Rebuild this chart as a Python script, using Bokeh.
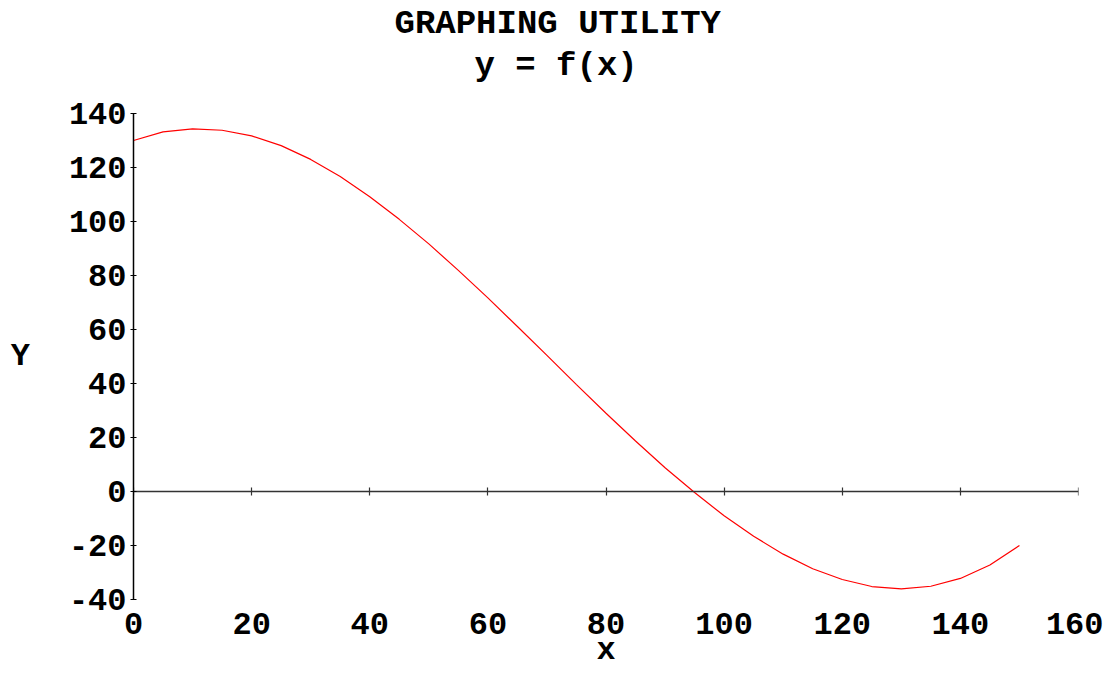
from bokeh.plotting import figure
from bokeh.models import Range1d, LinearAxis, FixedTicker, Title
from bokeh.embed import file_html
from bokeh.resources import INLINE

# ---- data ----
x_vals = [0, 5, 10, 15, 20, 25, 30, 35, 40, 45, 50, 55, 60, 65, 70, 75,
          80, 85, 90, 95, 100, 105, 110, 115, 120, 125, 130, 135, 140, 145, 150]
y_vals = [130.0, 133.2, 134.3, 133.8, 131.7, 128.1, 123.0, 116.7, 109.2, 100.8,
          91.7, 81.9, 71.7, 61.1, 50.4, 39.6, 29.0, 18.7, 8.8, -0.4, -9.0,
          -16.6, -23.2, -28.6, -32.6, -35.2, -36.1, -35.1, -32.2, -27.2, -20.0]
x_ticks = [0, 20, 40, 60, 80, 100, 120, 140, 160]
y_ticks = [-40, -20, 0, 20, 40, 60, 80, 100, 120, 140]
title_main = "GRAPHING UTILITY"
title_sub = "y = f(x)"
x_label = "x"
y_label = "Y"

FONT = "Liberation Mono"
TICK_FS = "32px"
TITLE_FS = "34px"

p = figure(width=1103, height=671,
           x_range=Range1d(0, 160), y_range=Range1d(-40, 140),
           x_axis_location=None, y_axis_location=None,
           output_backend="svg", toolbar_location=None,
           min_border_left=133, min_border_right=25,
           min_border_top=113, min_border_bottom=72)
p.grid.visible = False
p.outline_line_color = None
p.background_fill_color = "white"
p.border_fill_color = "white"

# left axis (x = 0)
yax = LinearAxis(ticker=FixedTicker(ticks=y_ticks),
                 major_label_overrides={t: str(t) for t in y_ticks},
                 axis_label=y_label, axis_label_orientation="horizontal",
                 axis_label_text_font=FONT, axis_label_text_font_size=TICK_FS,
                 axis_label_text_font_style="bold", axis_label_text_color="black",
                 axis_label_standoff=36,
                 major_label_text_font=FONT, major_label_text_font_size=TICK_FS,
                 major_label_text_font_style="bold", major_label_text_color="black",
                 major_label_standoff=4,
                 axis_line_color="black", axis_line_width=1.5,
                 major_tick_in=3, major_tick_out=3, major_tick_line_width=1.2,
                 major_tick_line_color="black",
                 minor_tick_line_color=None)
p.add_layout(yax, "left")

# bottom labels axis
xax = LinearAxis(ticker=FixedTicker(ticks=x_ticks),
                 major_label_overrides={t: str(t) for t in x_ticks},
                 axis_label=x_label,
                 axis_label_text_font=FONT, axis_label_text_font_size=TICK_FS,
                 axis_label_text_font_style="bold", axis_label_text_color="black",
                 axis_label_standoff=-5,
                 major_label_text_font=FONT, major_label_text_font_size=TICK_FS,
                 major_label_text_font_style="bold", major_label_text_color="black",
                 major_label_standoff=13,
                 axis_line_color=None, major_tick_line_color=None,
                 major_tick_in=0, major_tick_out=0,
                 minor_tick_line_color=None)
p.add_layout(xax, "below")

# axis line at y = 0 with crossing ticks
zax = LinearAxis(ticker=FixedTicker(ticks=x_ticks), fixed_location=0,
                 major_label_overrides={t: "" for t in x_ticks},
                 axis_line_color="#333333", axis_line_width=1.5,
                 major_tick_in=4, major_tick_out=4, major_tick_line_width=1.2,
                 major_tick_line_color="#333333",
                 minor_tick_line_color=None)
p.add_layout(zax, "below")

# curve
p.line(x_vals, y_vals, line_color="#ff0000", line_width=1.2)

# titles (sub first = nearest to plot)
p.add_layout(Title(text=title_sub, align="left", offset=341,
                   text_font=FONT, text_font_size=TITLE_FS, text_font_style="bold",
                   text_color="black", standoff=58), "above")
p.add_layout(Title(text=title_main, align="left", offset=261,
                   text_font=FONT, text_font_size=TITLE_FS, text_font_style="bold",
                   text_color="black", standoff=-54), "above")

open("out.html", "w").write(file_html(p, INLINE))
